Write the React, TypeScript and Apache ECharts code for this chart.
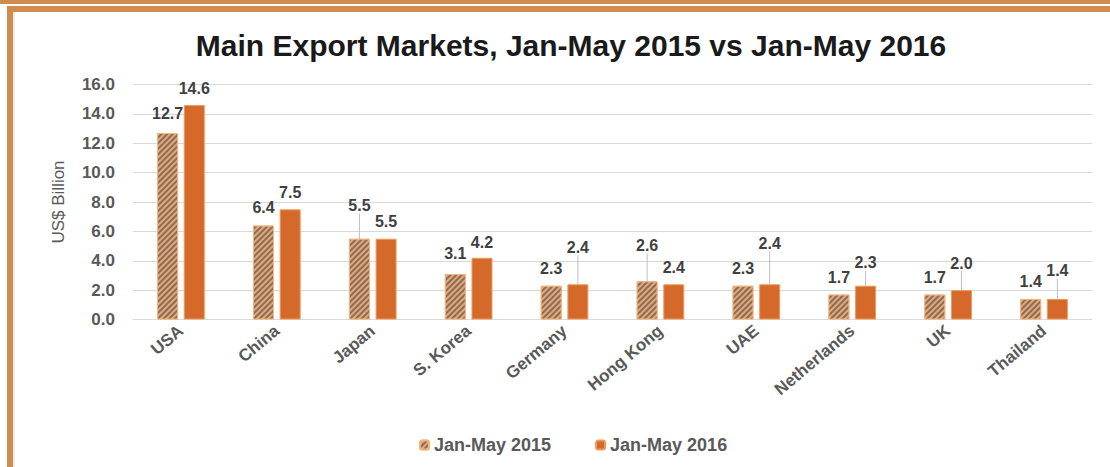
import React, { useEffect, useRef } from "react";
import * as echarts from "echarts";

const categories = ["USA", "China", "Japan", "S. Korea", "Germany", "Hong Kong", "UAE", "Netherlands", "UK", "Thailand"];
const values2015 = [12.7, 6.4, 5.5, 3.1, 2.3, 2.6, 2.3, 1.7, 1.7, 1.4];
const values2016 = [14.6, 7.5, 5.5, 4.2, 2.4, 2.4, 2.4, 2.3, 2.0, 1.4];
const seriesNames = ["Jan-May 2015", "Jan-May 2016"];
const chartTitle = "Main Export Markets, Jan-May 2015 vs Jan-May 2016";
const yAxisName = "US$ Billion";

// label placement (offsets in px, styling only)
const labelLift2015 = [-6, -5, -20, -7, -4, -23, -4, -4, -4, -4];
const labelLift2016 = [-4, -4, -4, -2, -24, -4, -28, -10, -14, -15];
const leader2015 = [false, false, true, false, false, true, false, false, false, false];
const leader2016 = [false, false, false, false, true, false, true, true, true, true];

const FONT = "'Liberation Sans', Arial, sans-serif";
const FRAME = "#D08C4E";
const SOLID = "#D4692A";
const HATCH_BG = "#F0A468";
const TEXT = "#595959";

export default function App() {
  const ref = useRef<HTMLDivElement>(null);
  useEffect(() => {
    if (!ref.current) return;
    const chart = echarts.init(ref.current, null, { renderer: "svg" });
    const mkData = (vals: number[], leaders: boolean[]) =>
      vals.map((v, i) => ({ value: v, labelLine: { show: leaders[i] } }));
    const labelCfg = {
      show: true,
      position: "top" as const,
      distance: 5,
      fontFamily: FONT,
      fontSize: 16,
      fontWeight: "bold" as const,
      color: "#404040",
      formatter: (p: any) => Number(p.value).toFixed(1),
    };
    const lineCfg = { lineStyle: { color: "#BFBFBF", width: 1 }, smooth: false };
    chart.setOption({
      animation: false,
      backgroundColor: "#ffffff",
      textStyle: { fontFamily: FONT },
      title: {
        text: chartTitle,
        left: 566,
        textAlign: "center",
        top: 25,
        textStyle: { fontFamily: FONT, fontSize: 30, fontWeight: "bold", color: "#1a1a1a" },
      },
      graphic: [
        { type: "rect", shape: { x: 0, y: 0, width: 1110, height: 4 }, style: { fill: FRAME }, z: 100 },
        { type: "rect", shape: { x: 7, y: 6, width: 1103, height: 6 }, style: { fill: FRAME }, z: 100 },
        { type: "rect", shape: { x: 7, y: 6, width: 6, height: 461 }, style: { fill: FRAME }, z: 100 },
        { type: "rect", shape: { x: 13, y: 12, width: 2, height: 455 }, style: { fill: "#EBEBEB" }, z: 100 },
      ],
      legend: {
        data: seriesNames,
        left: 414,
        top: 431,
        itemWidth: 9,
        itemHeight: 9,
        itemGap: 44,
        textStyle: { fontFamily: FONT, fontSize: 18, fontWeight: "bold", color: TEXT },
      },
      grid: { left: 133, right: 18, top: 84.5, bottom: 147.5, containLabel: false },
      xAxis: {
        type: "category",
        data: categories,
        axisLine: { show: true, lineStyle: { color: "#D9D9D9", width: 1 } },
        axisTick: { show: false },
        axisLabel: {
          rotate: 40,
          margin: 9,
          interval: 0,
          fontFamily: FONT,
          fontSize: 17,
          fontWeight: "bold",
          color: TEXT,
        },
      },
      yAxis: {
        type: "value",
        min: 0,
        max: 16,
        interval: 2,
        name: yAxisName,
        nameLocation: "middle",
        nameGap: 66,
        nameTextStyle: { fontFamily: FONT, fontSize: 17, color: TEXT },
        axisLine: { show: false },
        axisTick: { show: false },
        splitLine: { lineStyle: { color: "#D9D9D9", width: 1 } },
        axisLabel: {
          margin: 18,
          fontFamily: FONT,
          fontSize: 17,
          fontWeight: "bold",
          color: TEXT,
          formatter: (v: number) => v.toFixed(1),
        },
      },
      series: [
        {
          name: seriesNames[0],
          type: "bar",
          barWidth: 21,
          barGap: "27%",
          data: mkData(values2015, leader2015),
          itemStyle: {
            color: HATCH_BG,
            borderColor: "#F4B47E",
            borderWidth: 1,
            decal: {
              symbol: "rect",
              symbolSize: 1,
              color: "rgba(110,108,105,0.9)",
              dashArrayX: [1, 0],
              dashArrayY: [2, 2],
              rotation: -Math.PI / 4,
            },
          },
          label: labelCfg,
          labelLine: lineCfg,
          labelLayout: (p: any) => ({ dy: labelLift2015[p.dataIndex] }),
        },
        {
          name: seriesNames[1],
          type: "bar",
          barWidth: 21,
          data: mkData(values2016, leader2016),
          itemStyle: { color: SOLID, borderColor: "#EE9A5E", borderWidth: 1 },
          label: labelCfg,
          labelLine: lineCfg,
          labelLayout: (p: any) => ({ dy: labelLift2016[p.dataIndex] }),
        },
      ],
    });
    return () => chart.dispose();
  }, []);
  return (
    <div
      ref={ref}
      style={{ position: "absolute", left: 0, top: 0, width: 1110, height: 467, background: "#fff" }}
    />
  );
}
